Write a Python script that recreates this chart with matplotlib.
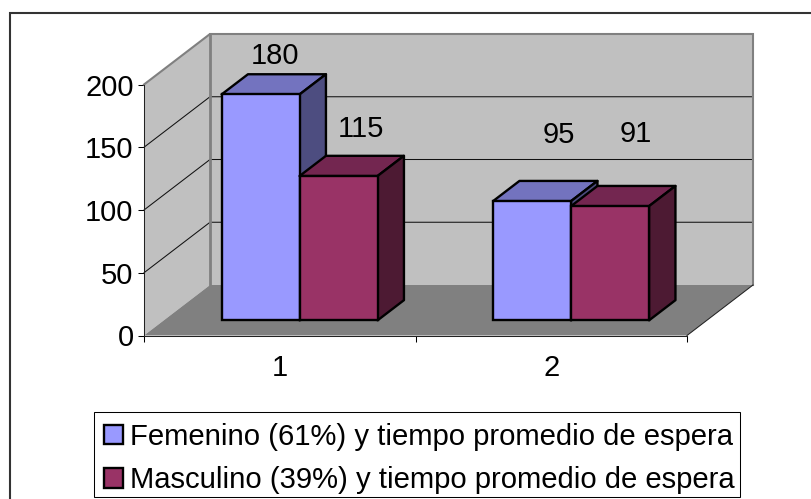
import matplotlib
matplotlib.use("Agg")
import matplotlib.pyplot as plt
from matplotlib.patches import Polygon, Rectangle

plt.rcParams['font.family'] = ['Liberation Sans', 'DejaVu Sans']

# Data
categories = ['1', '2']
series_names = ['Femenino (61%) y tiempo promedio de espera',
                'Masculino (39%) y tiempo promedio de espera']
femenino = [180, 95]
masculino = [115, 91]
y_ticks = [0, 50, 100, 150, 200]

# Pixel canvas
W, H = 811, 499
fig = plt.figure(figsize=(W / 100, H / 100), dpi=100)
fig.patch.set_facecolor('white')

# Front plane of the 3D box
L, R, T, B = 144, 687, 84.5, 335.5
ax = fig.add_axes([L / W, 1 - B / H, (R - L) / W, (B - T) / H])
ax.set_xlim(0, 2)
ax.set_ylim(0, 200)
ax.patch.set_visible(False)

# Oblique depth vector in data units
DX = 66 / ((R - L) / 2)
DY = 50.5 / ((B - T) / 200)

def deep(x, y, d):
    return (x + d * DX, y + d * DY)

WALL = '#C0C0C0'
FLOOR = '#808080'

# Walls and floor
ax.add_patch(Polygon([(0, 0), deep(0, 0, 1), deep(0, 200, 1), (0, 200)],
                     fc=WALL, ec='none', clip_on=False, zorder=1))
ax.add_patch(Polygon([deep(0, 0, 1), deep(2, 0, 1), deep(2, 200, 1), deep(0, 200, 1)],
                     fc=WALL, ec='none', clip_on=False, zorder=1))
ax.add_patch(Polygon([(0, 0), (2, 0), deep(2, 0, 1), deep(0, 0, 1)],
                     fc=FLOOR, ec='none', clip_on=False, zorder=1.5))

# Gridlines run along the side wall and across the back wall
for v in y_ticks[1:-1]:
    x0, y0 = deep(0, v, 0)
    x1, y1 = deep(0, v, 1)
    x2, y2 = deep(2, v, 1)
    ax.plot([x0, x1, x2], [y0, y1, y2], color='#111111', lw=0.75,
            clip_on=False, zorder=1.6)

# Wall outline
corners = [(0, 200), deep(0, 200, 1), deep(2, 200, 1), deep(2, 0, 1)]
ax.plot(*zip(*corners), color='#808080', lw=1.5, clip_on=False, zorder=1.7,
        solid_joinstyle='miter')
ax.plot(*zip(deep(0, 200, 1), deep(0, 0, 1)), color='#808080', lw=2.0,
        clip_on=False, zorder=1.7)
ax.plot(*zip((2, 0), deep(2, 0, 1)), color='#222222', lw=0.75, clip_on=False, zorder=1.7)

# Bars
BAR_W = 78 / ((R - L) / 2)
D_FRONT, D_BACK = 0.30, 0.70
EDGE = 1.7
fills = [('#9999FF', '#7373BF', '#4D4D80'), ('#993366', '#732650', '#4D1A33')]
series = [femenino, masculino]
handles = []
z = 2.0
for i, vals in enumerate(series):
    front, top, side = fills[i]
    for c, v in enumerate(vals):
        left = c + 0.5 + (i - 1) * BAR_W + D_FRONT * DX
        right = left + BAR_W
        base = D_FRONT * DY
        depth = D_BACK - D_FRONT
        ax.add_patch(Polygon([(left, base + v), (right, base + v),
                              deep(right, base + v, depth), deep(left, base + v, depth)],
                             fc=top, ec='black', lw=EDGE, clip_on=False, zorder=z,
                             joinstyle='round'))
        ax.add_patch(Polygon([(right, base), deep(right, base, depth),
                              deep(right, base + v, depth), (right, base + v)],
                             fc=side, ec='black', lw=EDGE, clip_on=False, zorder=z,
                             joinstyle='round'))
        bars = ax.bar(left, v, BAR_W, bottom=base, align='edge', color=front,
                      edgecolor='black', lw=EDGE, clip_on=False, zorder=z + 0.1,
                      label=series_names[i])
        z += 0.2
        if c == 0:
            handles.append(bars[0])

# Value labels (offsets in pixels from the top centre of each bar's front face)
label_offsets = [[(14, 41), (27, 69)], [(22, 50), (26, 75)]]
for i, vals in enumerate(series):
    for c, v in enumerate(vals):
        left = c + 0.5 + (i - 1) * BAR_W + D_FRONT * DX
        ox, oy = label_offsets[i][c]
        ax.annotate(str(v), (left + BAR_W / 2, D_FRONT * DY + v),
                    xytext=(ox * 0.72, oy * 0.72), textcoords='offset points',
                    ha='center', va='center_baseline', fontsize=21, color='black',
                    annotation_clip=False, zorder=20)

# Axes
for s in ('top', 'right'):
    ax.spines[s].set_visible(False)
for s in ('left', 'bottom'):
    ax.spines[s].set_linewidth(0.75)
    ax.spines[s].set_color('#222222')
    ax.spines[s].set_zorder(1.8)
ax.set_yticks(y_ticks)
ax.set_yticklabels([str(v) for v in y_ticks], fontsize=21)
ax.tick_params(axis='y', length=4, width=0.75, pad=3.5)
ax.set_xticks([0, 1, 2])
ax.set_xticklabels([])
ax.set_xticks([0.5, 1.5], minor=True)
ax.set_xticklabels(categories, minor=True, fontsize=21)
ax.tick_params(axis='x', which='major', length=4, width=0.75)
ax.tick_params(axis='x', which='minor', length=0, pad=13)

# Outer chart frame, open past the right and bottom edges of the canvas
fig.add_artist(Rectangle((9.5 / W, -5 / H), (W + 10) / W, (H - 12.5 + 5) / H,
                         transform=fig.transFigure, fc='none', ec='#333333', lw=1.5))

# Legend box and its entries
fig.add_artist(Rectangle((94.3 / W, 1 - 496.7 / H), 645.7 / W, 85 / H,
                         transform=fig.transFigure, fc='white', ec='black', lw=0.75))
leg = fig.legend(handles, series_names, loc='lower left',
                 bbox_to_anchor=(95.8 / W, 1 - 502.5 / H), bbox_transform=fig.transFigure,
                 fontsize=21.1, frameon=False,
                 handlelength=0.64, handleheight=0.64,
                 handletextpad=0.24, labelspacing=0.53, borderpad=0.28,
                 borderaxespad=0)

fig.savefig('out.png', dpi=100)
